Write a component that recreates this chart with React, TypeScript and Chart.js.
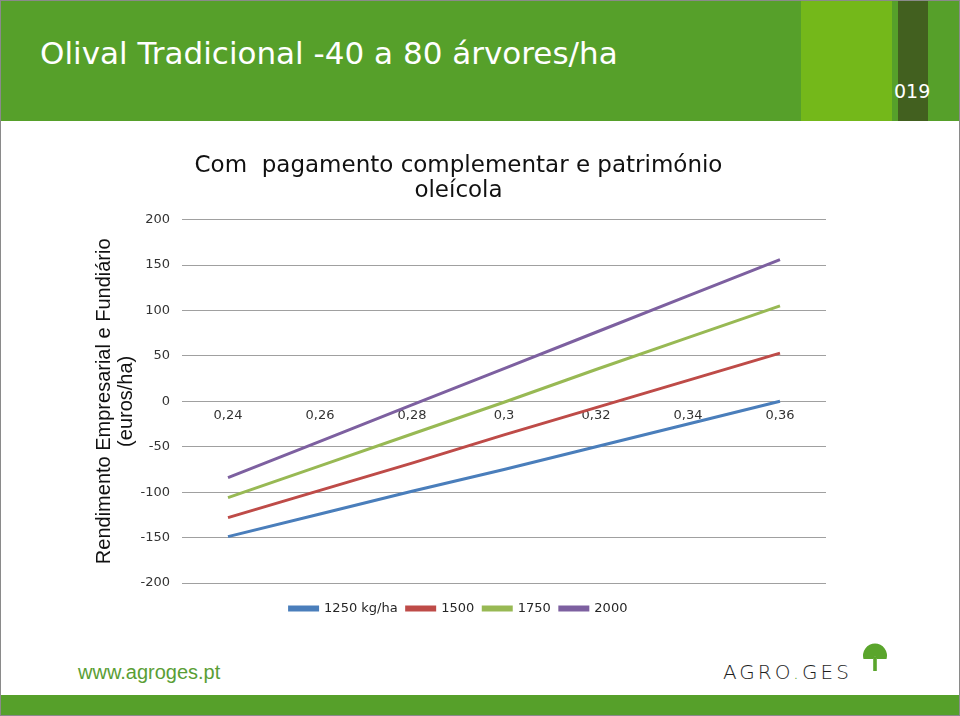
import React, { useEffect, useRef } from "react";
import { Chart, registerables } from "chart.js";

Chart.register(...registerables);

const categories = ["0,24", "0,26", "0,28", "0,3", "0,32", "0,34", "0,36"];
const seriesNames = ["1250 kg/ha", "1500", "1750", "2000"];
const s1250 = [-149, -124, -99, -75, -50, -25, 0];
const s1500 = [-128, -98, -68, -37, -7, 23, 53];
const s1750 = [-106, -71, -36, -1, 35, 70, 105];
const s2000 = [-84, -44, -4, 36, 76, 116, 156];
const seriesColors = ["#4A7EBB", "#BE4B48", "#98B954", "#7D60A0"];
const chartTitle = ["Com  pagamento complementar e património", "oleícola"];
const yTitle = ["Rendimento Empresarial e Fundiário", "(euros/ha)"];
const yMin = -200;
const yMax = 200;
const yStep = 50;

const GREEN = "#56A02A";

function TreeLogo() {
  return (
    <svg width="28" height="32" viewBox="0 0 28 32" style={{ position: "absolute", left: 860, top: 641 }}>
      <path d="M2.5 17 A12 12 0 1 1 25.5 17 L16 17 L14 14.5 L12 17 Z" fill="#5AA52C" />
      <rect x="12.2" y="15" width="3.6" height="14" fill="#5AA52C" />
    </svg>
  );
}

export default function App() {
  const canvasRef = useRef<HTMLCanvasElement | null>(null);

  useEffect(() => {
    const canvas = canvasRef.current;
    if (!canvas) return;
    const all = [s1250, s1500, s1750, s2000];
    const chart = new Chart(canvas, {
      type: "line",
      data: {
        labels: categories,
        datasets: all.map((d, i) => ({
          label: seriesNames[i],
          data: d,
          borderColor: seriesColors[i],
          backgroundColor: seriesColors[i],
          borderWidth: 3,
          pointRadius: 0,
          tension: 0,
          fill: false,
        })),
      },
      options: {
        responsive: false,
        animation: false,
        devicePixelRatio: 1,
        layout: { padding: { left: 90, right: 135, top: 152, bottom: 92 } },
        plugins: {
          title: {
            display: true,
            text: chartTitle,
            color: "#111111",
            font: { family: "'DejaVu Sans'", size: 23, weight: "normal", lineHeight: 1.1 },
            padding: { top: 0, bottom: 16 },
          },
          legend: {
            display: true,
            position: "bottom",
            title: {
              display: true,
              text: "",
              font: { size: 1, lineHeight: 1 },
              padding: { top: 9, bottom: 0 },
            },
            labels: {
              color: "#262626",
              font: { family: "'DejaVu Sans'", size: 13 },
              boxWidth: 28,
              boxHeight: 3,
              padding: 9,
            },
          },
          tooltip: { enabled: false },
        },
        scales: {
          x: {
            type: "category",
            position: { y: 0 },
            offset: true,
            grid: { display: false, drawTicks: false },
            border: { display: false },
            ticks: {
              color: "#333333",
              font: { family: "'DejaVu Sans'", size: 13 },
              padding: 7,
              maxRotation: 0,
              autoSkip: false,
            },
          },
          y: {
            min: yMin,
            max: yMax,
            grid: { color: "#A0A0A0", lineWidth: 1, drawTicks: false },
            border: { display: false },
            ticks: {
              stepSize: yStep,
              color: "#333333",
              font: { family: "'DejaVu Sans'", size: 13 },
              padding: 12,
              callback: (v: any) => String(v),
            },
            title: {
              display: true,
              text: yTitle,
              color: "#111111",
              font: { family: "'Liberation Sans'", size: 20, lineHeight: 1.1 },
              padding: { top: 2, bottom: 0 },
            },
            afterFit: (scale: any) => {
              scale.width = 91;
            },
          },
        },
      },
    });
    return () => chart.destroy();
  }, []);

  return (
    <div
      style={{
        position: "absolute",
        left: 0,
        top: 0,
        width: 960,
        height: 716,
        background: "#FFFFFF",
        boxSizing: "border-box",
        border: "1px solid #8A8A8A",
        overflow: "hidden",
        fontFamily: "'Liberation Sans', Arial, sans-serif",
      }}
    >
      <div style={{ position: "absolute", left: 0, top: 0, width: 960, height: 120, background: GREEN }} />
      <div style={{ position: "absolute", left: 800, top: 0, width: 91, height: 120, background: "#74B81A" }} />
      <div style={{ position: "absolute", left: 897, top: 0, width: 30, height: 120, background: "#42601F" }} />
      <div
        style={{
          position: "absolute",
          left: 39,
          top: 32,
          color: "#FFFFFF",
          fontSize: 31,
          lineHeight: "40px",
          whiteSpace: "nowrap",
          fontFamily: "'DejaVu Sans', sans-serif",
        }}
      >
        Olival Tradicional -40 a 80 árvores/ha
      </div>
      <div
        style={{
          position: "absolute",
          left: 893,
          top: 79,
          color: "#FFFFFF",
          fontSize: 19,
          lineHeight: "22px",
          fontFamily: "'DejaVu Sans', sans-serif",
        }}
      >
        019
      </div>
      <div
        style={{
          position: "absolute",
          left: 77,
          top: 658,
          color: "#5A9E35",
          fontSize: 20,
          lineHeight: "26px",
        }}
      >
        www.agroges.pt
      </div>
      <div
        style={{
          position: "absolute",
          left: 722,
          top: 658,
          color: "#1E1E1E",
          fontSize: 20,
          lineHeight: "26px",
          fontWeight: 200,
          fontFamily: "'DejaVu Sans', sans-serif",
          letterSpacing: 3,
          whiteSpace: "nowrap",
        }}
      >
        AGRO<span style={{ color: "#5AA52C" }}>.</span>GES
      </div>
      <TreeLogo />
      <div style={{ position: "absolute", left: 0, top: 694, width: 960, height: 20, background: GREEN }} />
      <canvas
        ref={canvasRef}
        width={960}
        height={716}
        style={{ position: "absolute", left: 0, top: 0, width: 960, height: 716 }}
      />
    </div>
  );
}
